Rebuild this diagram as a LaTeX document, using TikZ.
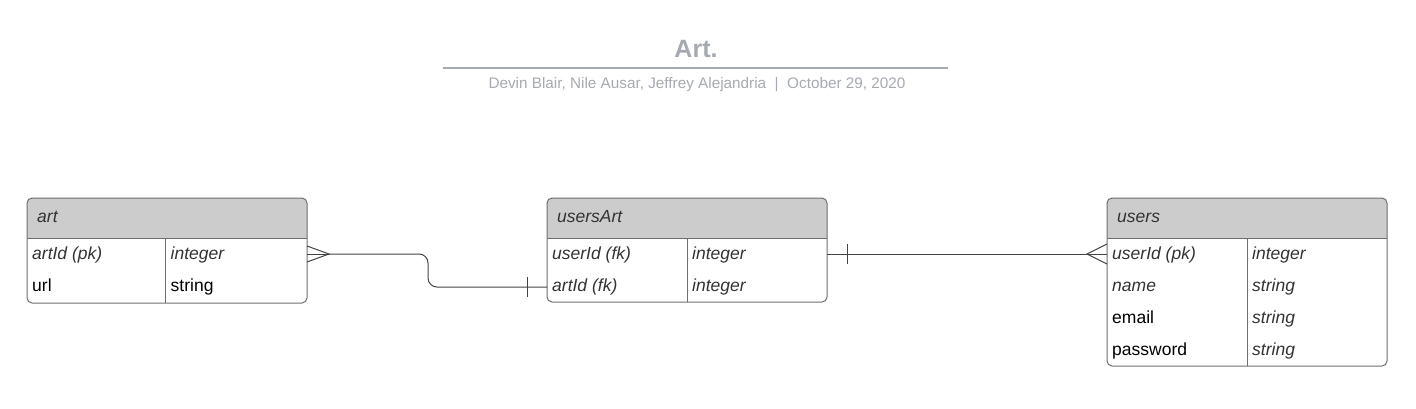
\documentclass[tikz,border=0pt]{standalone}
\usepackage{fontspec}
\setmainfont{Liberation Sans}
\definecolor{hdr}{HTML}{CCCCCC}
\definecolor{bordc}{HTML}{6E6E6E}
\definecolor{txtd}{HTML}{333333}
\definecolor{ttl}{HTML}{A5A9B2}
\definecolor{conn}{HTML}{444444}
\begin{document}
\begin{tikzpicture}[x=1pt,y=-1pt,
  tbl/.style={draw=bordc, line width=1pt, rounded corners=5pt, inner sep=0pt, minimum width=280pt},
  cell/.style={anchor=base west, inner sep=0pt, font=\fontsize{17.5}{20}\selectfont, text=black},
  icell/.style={anchor=base west, inner sep=0pt, font=\fontsize{17.5}{20}\selectfont\itshape, text=txtd},
  hcell/.style={anchor=base west, inner sep=0pt, font=\fontsize{17.5}{20}\selectfont\itshape, text=txtd},
  sep/.style={draw=bordc, line width=1pt},
  conline/.style={draw=conn, line width=1pt},
]
\useasboundingbox (0,0) rectangle (1416,408);

% title
\node[anchor=base, text=ttl, font=\fontsize{25}{28}\selectfont\bfseries] (title) at (696,57.5) {Art.};
\draw[ttl, line width=2pt] (443,68) -- (948,68);
\node[anchor=base, text=ttl, font=\fontsize{15.3}{18}\selectfont] (sub) at (697,88) {Devin Blair, Nile Ausar, Jeffrey Alejandria \ | \ October 29, 2020};

% ---------- art table
\fill[hdr] (27,238) [rounded corners=5pt] -- (27,198) -- (307,198) [sharp corners] -- (307,238) -- cycle;
\node[tbl, minimum height=105pt] (art) at (167,250.5) {};
\draw[sep] (27,238) -- (307,238);
\draw[sep] (165.5,238) -- (165.5,303);
\node[hcell] (artH) at (37,222) {art};
\node[icell] (artA1) at (32,259.5) {artId (pk)};
\node[icell] (artB1) at (170.5,259.5) {integer};
\node[cell] (artA2) at (32,291) {url};
\node[cell] (artB2) at (170.5,291) {string};

% ---------- usersArt table
\fill[hdr] (547,238) [rounded corners=5pt] -- (547,198) -- (827,198) [sharp corners] -- (827,238) -- cycle;
\node[tbl, minimum height=104pt] (ua) at (687,250) {};
\draw[sep] (547,238) -- (827,238);
\draw[sep] (687,238) -- (687,302);
\node[hcell] (uaH) at (557,222) {usersArt};
\node[icell] (uaA1) at (552,259.5) {userId (fk)};
\node[icell] (uaB1) at (692,259.5) {integer};
\node[icell] (uaA2) at (552,291) {artId (fk)};
\node[icell] (uaB2) at (692,291) {integer};

% ---------- users table
\fill[hdr] (1107,238) [rounded corners=5pt] -- (1107,198) -- (1387,198) [sharp corners] -- (1387,238) -- cycle;
\node[tbl, minimum height=168pt] (us) at (1247,282) {};
\draw[sep] (1107,238) -- (1387,238);
\draw[sep] (1247,238) -- (1247,366);
\node[hcell] (usH) at (1117,222) {users};
\node[icell] (usA1) at (1112,259.5) {userId (pk)};
\node[icell] (usB1) at (1252,259.5) {integer};
\node[icell] (usA2) at (1112,291) {name};
\node[icell] (usB2) at (1252,291) {string};
\node[cell] (usA3) at (1112,323) {email};
\node[icell] (usB3) at (1252,323) {string};
\node[cell] (usA4) at (1112,355) {password};
\node[icell] (usB4) at (1252,355) {string};

% ---------- connector anchors
\coordinate (artR) at (307,254);
\coordinate (uaL) at (547,287);
\coordinate (uaR) at (827,254);
\coordinate (usL) at (1107,254);
\coordinate (cf1) at (329,254);
\coordinate (cf2) at (1087,254);

% art (many) -- usersArt (one)
\draw[conline] (artR |- 0,246) -- (cf1) -- (artR |- 0,262);
\draw[conline] (artR) -- (cf1);
\draw[conline, rounded corners=9pt] (cf1) -- (428,254) -- (428,287) -- (uaL);
\draw[conline] (527,277) -- (527,297);

% usersArt (one) -- users (many)
\draw[conline] (uaR) -- (usL);
\draw[conline] (847,244) -- (847,264);
\draw[conline] (usL |- 0,244) -- (cf2) -- (usL |- 0,264);
\end{tikzpicture}
\end{document}
